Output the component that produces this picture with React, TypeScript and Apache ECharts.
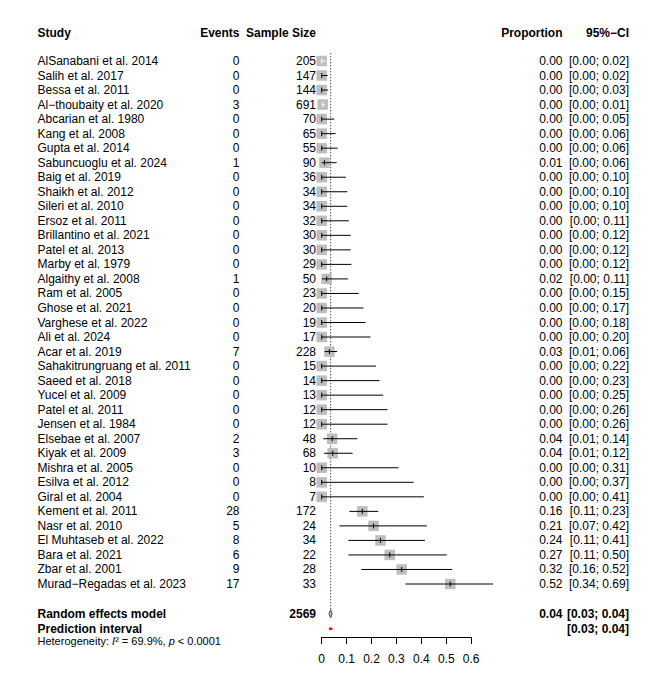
import React, { useEffect, useRef } from "react";
import * as echarts from "echarts";

const studies = [
  "AlSanabani et al. 2014", "Salih et al. 2017", "Bessa et al. 2011", "Al\u2212thoubaity et al. 2020",
  "Abcarian et al. 1980", "Kang et al. 2008", "Gupta et al. 2014", "Sabuncuoglu et al. 2024",
  "Baig et al. 2019", "Shaikh et al. 2012", "Sileri et al. 2010", "Ersoz et al. 2011",
  "Brillantino et al. 2021", "Patel et al. 2013", "Marby et al. 1979", "Algaithy et al. 2008",
  "Ram et al. 2005", "Ghose et al. 2021", "Varghese et al. 2022", "Ali et al. 2024",
  "Acar et al. 2019", "Sahakitrungruang et al. 2011", "Saeed et al. 2018", "Yucel et al. 2009",
  "Patel et al. 2011", "Jensen et al. 1984", "Elsebae et al. 2007", "Kiyak et al. 2009",
  "Mishra et al. 2005", "Esilva et al. 2012", "Giral et al. 2004", "Kement et al. 2011",
  "Nasr et al. 2010", "El Muhtaseb et al. 2022", "Bara et al. 2021", "Zbar et al. 2001",
  "Murad\u2212Regadas et al. 2023",
];
const events = [0, 0, 0, 3, 0, 0, 0, 1, 0, 0, 0, 0, 0, 0, 0, 1, 0, 0, 0, 0, 7, 0, 0, 0, 0, 0, 2, 3, 0, 0, 0, 28, 5, 8, 6, 9, 17];
const sampleSize = [205, 147, 144, 691, 70, 65, 55, 90, 36, 34, 34, 32, 30, 30, 29, 50, 23, 20, 19, 17, 228, 15, 14, 13, 12, 12, 48, 68, 10, 8, 7, 172, 24, 34, 22, 28, 33];
const proportion = [0, 0, 0, 0.004, 0, 0, 0, 0.011, 0, 0, 0, 0, 0, 0, 0, 0.02, 0, 0, 0, 0, 0.031, 0, 0, 0, 0, 0, 0.042, 0.044, 0, 0, 0, 0.163, 0.208, 0.236, 0.273, 0.321, 0.516];
const ciLower = [0, 0, 0, 0.001, 0, 0, 0, 0.0, 0, 0, 0, 0, 0, 0, 0, 0.001, 0, 0, 0, 0, 0.012, 0, 0, 0, 0, 0, 0.006, 0.009, 0, 0, 0, 0.111, 0.071, 0.107, 0.107, 0.159, 0.336];
const ciUpper = [0.018, 0.024, 0.026, 0.013, 0.051, 0.056, 0.064, 0.06, 0.097, 0.103, 0.103, 0.109, 0.116, 0.116, 0.119, 0.106, 0.148, 0.168, 0.176, 0.196, 0.062, 0.218, 0.232, 0.247, 0.264, 0.264, 0.143, 0.124, 0.308, 0.369, 0.41, 0.227, 0.422, 0.414, 0.502, 0.524, 0.688];

const pooledEstimate = [0.036, 0.029, 0.042]; // estimate, lower, upper
const predictionInterval = [0.029, 0.043];
const totalSampleSize = 2569;
const heterogeneityI2 = "69.9%";
const heterogeneityP = "< 0.0001";
const xTicks = [0, 0.1, 0.2, 0.3, 0.4, 0.5, 0.6];

const FONT = "'Liberation Sans', Arial, Helvetica, sans-serif";

const X_STUDY = 37.5;
const X_EVENTS = 239.5;
const X_N = 316;
const X_PROP = 562.5;
const X_CI = 629;

function txt(text: string, x: number, y: number, align: string, bold = false, size = 12) {
  return {
    type: "text",
    silent: true,
    style: {
      text,
      x,
      y,
      align,
      verticalAlign: "middle",
      fontSize: size,
      fontFamily: FONT,
      fontWeight: bold ? "bold" : "normal",
      fill: "#000",
    },
  };
}

export default function App() {
  const ref = useRef<HTMLDivElement>(null);
  useEffect(() => {
    if (!ref.current) return;
    const chart = echarts.init(ref.current, null, { renderer: "svg" });
    const rowH = (584 - 61) / 36;
    const top = 61 - 2 * rowH;
    const height = 42 * rowH;

    const summaryItem = (params: any, api: any) => {
      const yAt = (r: number) => api.coord([0, r])[1];
      const xAt = (v: number) => api.coord([v, 0])[0];
      const yHead = yAt(-1.95);
      const yRE = yAt(38.05);
      const yPI = yAt(39.08);
      const yHet = yAt(39.9);
      const [est, lo, hi] = pooledEstimate;
      const children: any[] = [
        {
          type: "line",
          silent: true,
          shape: { x1: xAt(est), y1: yAt(-0.53), x2: xAt(est), y2: yAt(37.79) },
          style: { stroke: "#000", lineWidth: 1, lineDash: [1, 2] },
        },
        txt("Study", X_STUDY, yHead, "left", true),
        txt("Events", X_EVENTS, yHead, "right", true),
        txt("Sample Size", X_N, yHead, "right", true),
        txt("Proportion", X_PROP, yHead, "right", true),
        txt("95%\u2212CI", X_CI, yHead, "right", true),
        txt("Random effects model", X_STUDY, yRE, "left", true),
        txt(String(totalSampleSize), X_N, yRE, "right", true),
        txt(est.toFixed(2), X_PROP, yRE, "right", true),
        txt(`[${lo.toFixed(2)}; ${hi.toFixed(2)}]`, X_CI, yRE, "right", true),
        txt("Prediction interval", X_STUDY, yPI, "left", true),
        txt(`[${predictionInterval[0].toFixed(2)}; ${predictionInterval[1].toFixed(2)}]`, X_CI, yPI, "right", true),
        {
          type: "text",
          silent: true,
          style: {
            text: `{a|Heterogeneity: }{i|I}{a|\u00b2 = ${heterogeneityI2}, }{i|p}{a| ${heterogeneityP}}`,
            x: X_STUDY,
            y: yHet,
            verticalAlign: "middle",
            align: "left",
            fill: "#000",
            rich: {
              a: { fontSize: 11, fontFamily: FONT, fill: "#000" },
              i: { fontSize: 11, fontFamily: FONT, fontStyle: "italic", fill: "#000" },
            },
          },
        },
        {
          type: "polygon",
          silent: true,
          shape: {
            points: [
              [xAt(lo), yRE],
              [xAt(est), yRE - 4],
              [xAt(hi), yRE],
              [xAt(est), yRE + 4],
            ],
          },
          style: { fill: "#bebebe", stroke: "#222", lineWidth: 0.8 },
        },
        {
          type: "rect",
          silent: true,
          shape: {
            x: xAt(predictionInterval[0]),
            y: yPI - 1.2,
            width: xAt(predictionInterval[1]) - xAt(predictionInterval[0]),
            height: 2.4,
          },
          style: { fill: "#ff0000" },
        },
      ];
      return { type: "group", children };
    };

    const studyItem = (params: any, api: any) => {
      const i = params.dataIndex;
      const y = api.coord([0, i])[1];
      const xAt = (v: number) => api.coord([v, i])[0];
      const half = 5.25;
      const cx = xAt(proportion[i]);
      const lx = xAt(ciLower[i]);
      const hx = xAt(ciUpper[i]);
      const inside = lx >= cx - half && hx <= cx + half;
      const col = inside ? "#ffffff" : "#000000";
      return {
        type: "group",
        children: [
          {
            type: "rect",
            silent: true,
            shape: { x: cx - half, y: y - half, width: half * 2, height: half * 2 },
            style: { fill: "#bebebe" },
          },
          {
            type: "line",
            silent: true,
            shape: { x1: lx, y1: y, x2: hx, y2: y },
            style: { stroke: col, lineWidth: 1 },
          },
          {
            type: "line",
            silent: true,
            shape: { x1: cx, y1: y - 2.5, x2: cx, y2: y + 2.5 },
            style: { stroke: col, lineWidth: 1 },
          },
          txt(studies[i], X_STUDY, y, "left"),
          txt(String(events[i]), X_EVENTS, y, "right"),
          txt(String(sampleSize[i]), X_N, y, "right"),
          txt(proportion[i].toFixed(2), X_PROP, y, "right"),
          txt(`[${ciLower[i].toFixed(2)}; ${ciUpper[i].toFixed(2)}]`, X_CI, y, "right"),
        ],
      };
    };

    chart.setOption({
      animation: false,
      grid: [
        { left: 321.7, width: 149.5, top, height },
        { left: 321.7, width: 149.5, top: 636, height: 1 },
      ],
      xAxis: [
        { type: "value", gridIndex: 0, min: 0, max: 0.6, show: false },
        {
          type: "value",
          gridIndex: 1,
          min: 0,
          max: 0.6,
          interval: 0.1,
          position: "bottom",
          axisLine: { show: true, lineStyle: { color: "#000", width: 1 } },
          axisTick: { show: true, length: 7, lineStyle: { color: "#000", width: 1 } },
          splitLine: { show: false },
          axisLabel: {
            color: "#000",
            fontSize: 12,
            fontFamily: FONT,
            margin: 16,
            formatter: (v: number) => {
              const t = xTicks.find((k) => Math.abs(k - v) < 1e-9);
              return t === undefined ? "" : t === 0 ? "0" : t.toFixed(1);
            },
          },
        },
      ],
      yAxis: [
        { type: "value", gridIndex: 0, min: -2, max: 40, inverse: true, show: false },
        { type: "value", gridIndex: 1, min: 0, max: 1, show: false },
      ],
      series: [
        {
          type: "custom",
          xAxisIndex: 0,
          yAxisIndex: 0,
          clip: false,
          silent: true,
          data: [[0, 0]],
          renderItem: summaryItem,
        },
        {
          type: "custom",
          xAxisIndex: 0,
          yAxisIndex: 0,
          clip: false,
          silent: true,
          data: studies.map((s, i) => [proportion[i], i]),
          renderItem: studyItem,
        },
      ],
    });
    return () => chart.dispose();
  }, []);
  return (
    <div
      ref={ref}
      style={{ position: "fixed", left: 0, top: 0, width: 672, height: 678, background: "#fff" }}
    />
  );
}
